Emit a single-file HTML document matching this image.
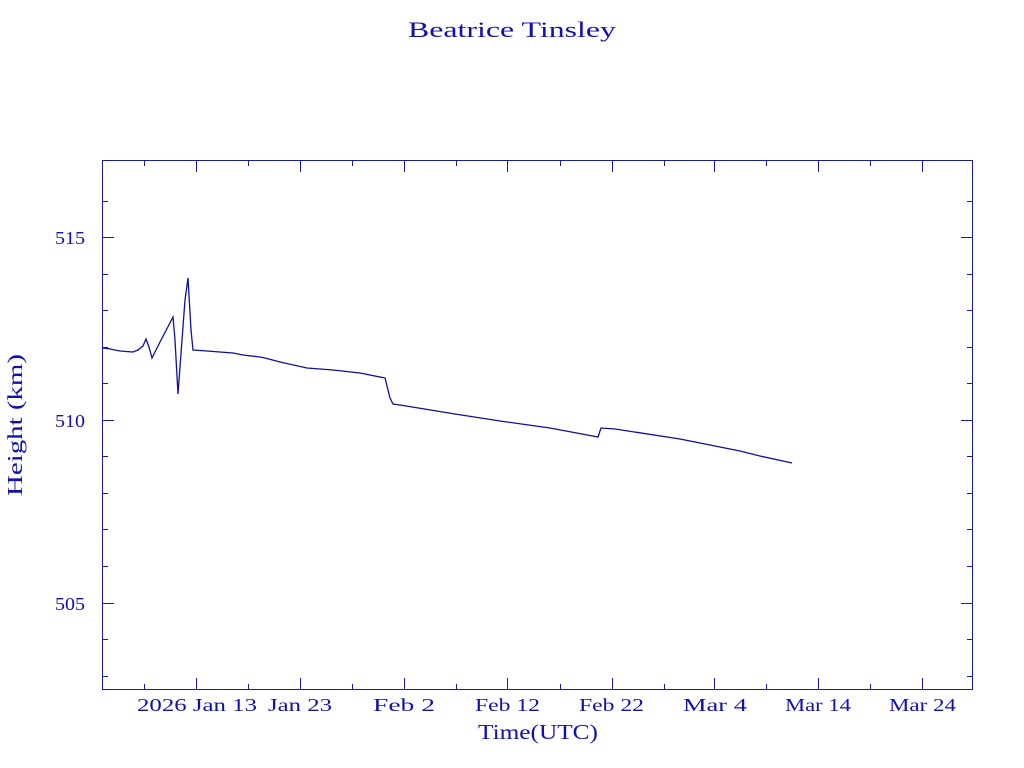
<!DOCTYPE html>
<html><head><meta charset="utf-8"><style>
html,body{margin:0;padding:0;background:#fff;}
svg{display:block;}
text{font-family:"Liberation Serif",serif;fill:#1010b0;}
</style></head><body>
<svg width="1024" height="768" xmlns="http://www.w3.org/2000/svg">
<text x="512" y="37" font-size="22" text-anchor="middle" textLength="208" lengthAdjust="spacingAndGlyphs">Beatrice Tinsley</text>
<rect x="102.5" y="160.5" width="870" height="529" fill="none" stroke="#1a1aa0" stroke-width="1"/>
<g stroke="#1a1aa0" stroke-width="1">
<!-- y ticks -->
<path d="M102 237.5h12M102 420.5h12M102 603.5h12M973 237.5h-12M973 420.5h-12M973 603.5h-12"/>
<path d="M102 201.5h6M102 274.5h6M102 310.5h6M102 347.5h6M102 383.5h6M102 456.5h6M102 493.5h6M102 529.5h6M102 566.5h6M102 639.5h6M102 676.5h6
M973 201.5h-6M973 274.5h-6M973 310.5h-6M973 347.5h-6M973 383.5h-6M973 456.5h-6M973 493.5h-6M973 529.5h-6M973 566.5h-6M973 639.5h-6M973 676.5h-6"/>
<!-- x ticks -->
<path d="M196.5 690v-12M300.5 690v-12M404.5 690v-12M507.5 690v-12M612.5 690v-12M714.5 690v-12M818.5 690v-12M922.5 690v-12
M196.5 160v12M300.5 160v12M404.5 160v12M507.5 160v12M612.5 160v12M714.5 160v12M818.5 160v12M922.5 160v12"/>
<path d="M144.5 690v-6M248.5 690v-6M352.5 690v-6M456.5 690v-6M560.5 690v-6M664.5 690v-6M766.5 690v-6M870.5 690v-6
M144.5 160v6M248.5 160v6M352.5 160v6M456.5 160v6M560.5 160v6M664.5 160v6M766.5 160v6M870.5 160v6"/>
</g>
<g font-size="18">
<text x="55" y="244" textLength="30" lengthAdjust="spacingAndGlyphs">515</text>
<text x="55" y="427" textLength="30" lengthAdjust="spacingAndGlyphs">510</text>
<text x="55" y="610" textLength="30" lengthAdjust="spacingAndGlyphs">505</text>
<text x="137" y="711" textLength="120" lengthAdjust="spacingAndGlyphs">2026 Jan 13</text>
<text x="268" y="711" textLength="64" lengthAdjust="spacingAndGlyphs">Jan 23</text>
<text x="373" y="711" textLength="62" lengthAdjust="spacingAndGlyphs">Feb  2</text>
<text x="475" y="711" textLength="65" lengthAdjust="spacingAndGlyphs">Feb 12</text>
<text x="579" y="711" textLength="65" lengthAdjust="spacingAndGlyphs">Feb 22</text>
<text x="683" y="711" textLength="64" lengthAdjust="spacingAndGlyphs">Mar  4</text>
<text x="785" y="711" textLength="66" lengthAdjust="spacingAndGlyphs">Mar 14</text>
<text x="889" y="711" textLength="67" lengthAdjust="spacingAndGlyphs">Mar 24</text>
</g>
<text x="538" y="739" font-size="21" text-anchor="middle" textLength="120" lengthAdjust="spacingAndGlyphs">Time(UTC)</text>
<text transform="translate(22,425) rotate(-90)" font-size="21" text-anchor="middle" textLength="142" lengthAdjust="spacingAndGlyphs">Height (km)</text>
<polyline fill="none" stroke="#10109a" stroke-width="1.3" points="102,347.7 110,349 120,351 133,352 138,350 143,346 146,339 149,347 152,358 160,342 173,317 175,340 178,394 182,340 185,300 188,278 191,330 193,350 207,351 233,353 243,355 260,357 265,358 280,362 307,368 333,370 360,373 385,378 388,390 390,398 393,404 400,405 455,414 500,421 550,428 598,437 601,428 615,429 680,439 740,451 760,456 792,463"/>
</svg>
</body></html>
